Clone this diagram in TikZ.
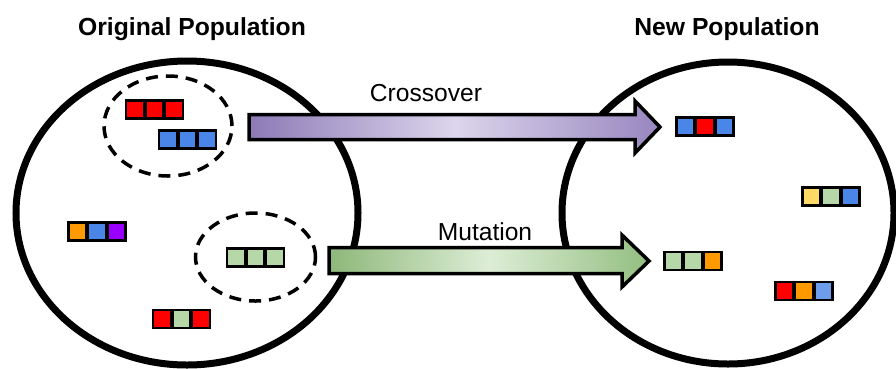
\documentclass[tikz,border=0pt]{standalone}
\usepackage{fontspec}
\setmainfont{Liberation Sans}
\usetikzlibrary{shapes.geometric}
\definecolor{gred}{HTML}{FF0000}
\definecolor{gblue}{HTML}{4A86E8}
\definecolor{glblue}{HTML}{6D9EEB}
\definecolor{gpurple}{HTML}{9900FF}
\definecolor{gorange}{HTML}{FF9900}
\definecolor{ggreen}{HTML}{B6D7A8}
\definecolor{gyellow}{HTML}{FFD966}
\definecolor{purA}{HTML}{8C7AB6}
\definecolor{purM}{HTML}{DCD5EC}
\definecolor{purB}{HTML}{9886BF}
\definecolor{grnA}{HTML}{8DB779}
\definecolor{grnM}{HTML}{DDEDD6}
\definecolor{grnB}{HTML}{93BE80}
\tikzset{
  pop/.style={draw, ellipse, line width=7pt, inner sep=0pt},
  group/.style={draw, ellipse, line width=3.5pt, dash pattern=on 12pt off 8pt, inner sep=0pt},
  gene/.style={draw, line width=2.8pt, minimum size=18pt, inner sep=0pt},
  blockarrow/.style={draw, line width=3.5pt, line join=miter},
  title/.style={font=\bfseries\fontsize{24.7pt}{28pt}\selectfont, anchor=base, inner sep=0pt},
  label/.style={font=\fontsize{24.6pt}{28pt}\selectfont, anchor=base, inner sep=0pt},
}
\newcommand\chromo[5]{%
  \node[gene, fill=#3, xshift=-19.5pt] (#1-1) at #2 {};
  \node[gene, fill=#4] (#1-2) at #2 {};
  \node[gene, fill=#5, xshift=19.5pt] (#1-3) at #2 {};
}
\begin{document}
\begin{tikzpicture}[x=1pt, y=-1pt]
\useasboundingbox (0,0) rectangle (896,368);
\fill[white] (0,0) rectangle (896,368);
% populations
\node[pop, minimum width=342pt, minimum height=304pt] (orig) at (187,213) {};
\node[pop, minimum width=332pt, minimum height=302pt] (new) at (728,213) {};
% arrows
\draw[blockarrow, left color=purA, right color=purB, middle color=purM]
  (249,114.5) -- (635,114.5) -- (635,101) -- (660,127) -- (635,153) -- (635,139.5) -- (249,139.5) -- cycle;
\draw[blockarrow, left color=grnA, right color=grnB, middle color=grnM]
  (329,247.5) -- (622,247.5) -- (622,235) -- (649,261) -- (622,287) -- (622,273.5) -- (329,273.5) -- cycle;
% selection groups
\node[group, minimum width=128pt, minimum height=100pt] (g1) at (168,126) {};
\node[group, minimum width=120pt, minimum height=88pt] (g2) at (255.5,257) {};
% chromosomes
\chromo{c1}{(154.5,109.5)}{gred}{gred}{gred}
\chromo{c2}{(187.5,139.5)}{gblue}{gblue}{gblue}
\chromo{c3}{(97,231.5)}{gorange}{gblue}{gpurple}
\chromo{c4}{(255.5,257.5)}{ggreen}{ggreen}{ggreen}
\chromo{c5}{(181.5,319)}{gred}{ggreen}{gred}
\chromo{c6}{(705,126.5)}{gblue}{gred}{gblue}
\chromo{c7}{(831,196.5)}{gyellow}{ggreen}{gblue}
\chromo{c8}{(693,261)}{ggreen}{ggreen}{gorange}
\chromo{c9}{(804,291)}{gred}{gorange}{glblue}
% texts
\node[title] (t1) at (192,35) {Original Population};
\node[title] (t2) at (727,35) {New Population};
\node[label] (l1) at (426,101.5) {Crossover};
\node[label] (l2) at (485,240) {Mutation};
\end{tikzpicture}
\end{document}
